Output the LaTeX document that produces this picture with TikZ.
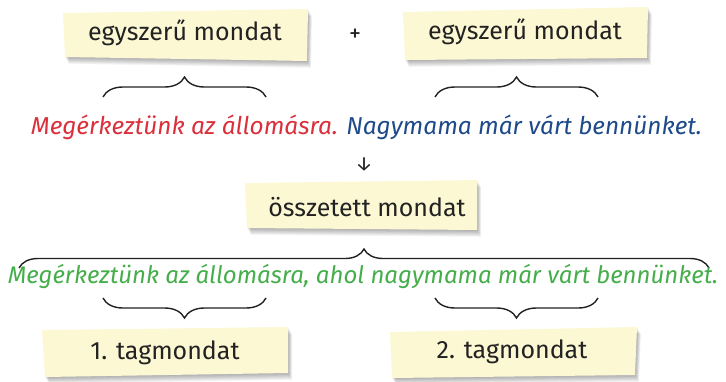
\documentclass[tikz,border=0pt]{standalone}
\usepackage{fontspec}
\setmainfont{Fira Sans}
\usetikzlibrary{decorations.pathreplacing}
\definecolor{note}{HTML}{FCF8D4}
\definecolor{sred}{HTML}{D9303C}
\definecolor{sblue}{HTML}{1E4A8A}
\definecolor{sgreen}{HTML}{45AE4B}
\definecolor{ink}{HTML}{222222}
\newcommand\notepaper[4]{%
  \foreach \s in {1,...,8}{%
    \fill[black,opacity=0.045,shift={(0.5*\s,0.85*\s)}] #1 -- #2 -- #3 -- #4 -- cycle;}
  \fill[note] #1 -- #2 -- #3 -- #4 -- cycle;}
\begin{document}
\begin{tikzpicture}[x=1pt,y=-1pt,
  notetext/.style={text=ink,font=\fontsize{25}{30}\selectfont,inner sep=0pt},
  sent/.style={font=\fontsize{24.4}{28}\selectfont\itshape,inner sep=0pt},
  bracel/.style={draw=ink,line width=1.4pt,decorate,decoration={brace,amplitude=19pt}},
  braces/.style={draw=ink,line width=1.4pt,decorate,decoration={brace,amplitude=20pt}}]
\useasboundingbox (0,0) rectangle (726,381);
% top notes
\notepaper{(63,13)}{(308,9)}{(307,61)}{(65,57)}
\node[notetext] (n1) at (185,33) {egyszerű mondat};
\node[text=ink,font=\fontsize{24}{26}\selectfont\addfontfeature{}] (plus) at (355,35) {+};
\notepaper{(403,12)}{(648,7)}{(647,58)}{(405,60)}
\node[notetext] (n2) at (525,32) {egyszerű mondat};
% braces above sentence
\coordinate (b1l) at (103,97); \coordinate (b1r) at (266,97);
\coordinate (b2l) at (435,97); \coordinate (b2r) at (598,97);
\draw[braces] (b1l) -- (b1r);
\draw[braces] (b2l) -- (b2r);
% sentence 1
\node[sent] (s1) at (366.5,127) {\textcolor{sred}{Megérkeztünk az állomásra.} \textcolor{sblue}{Nagymama már várt bennünket.}};
% arrow
\node[text=ink,font=\fontsize{20}{22}\selectfont] (arr) at (364,164) {↓};
% compound note
\notepaper{(245,183)}{(477,180)}{(477,230)}{(247,228)}
\node[notetext] (n3) at (367,207) {összetett mondat};
% big brace
\coordinate (bbl) at (19,268); \coordinate (bbr) at (709,268);
\draw[bracel] (bbl) -- (bbr);
% green sentence
\node[sent,text=sgreen,font=\fontsize{24}{28}\selectfont\itshape] (s3) at (363,276) {Megérkeztünk az állomásra, ahol nagymama már várt bennünket.};
% lower braces
\coordinate (c1l) at (103,298); \coordinate (c1r) at (266,298);
\coordinate (c2l) at (435,298); \coordinate (c2r) at (598,298);
\draw[braces] (c1r) -- (c1l);
\draw[braces] (c2r) -- (c2l);
% bottom notes
\notepaper{(42,330)}{(288,327)}{(288,373)}{(45,377)}
\node[notetext] (n4) at (165,353) {1. tagmondat};
\notepaper{(390,332)}{(637,327)}{(635,375)}{(392,378)}
\node[notetext] (n5) at (512,352) {2. tagmondat};
\end{tikzpicture}
\end{document}
